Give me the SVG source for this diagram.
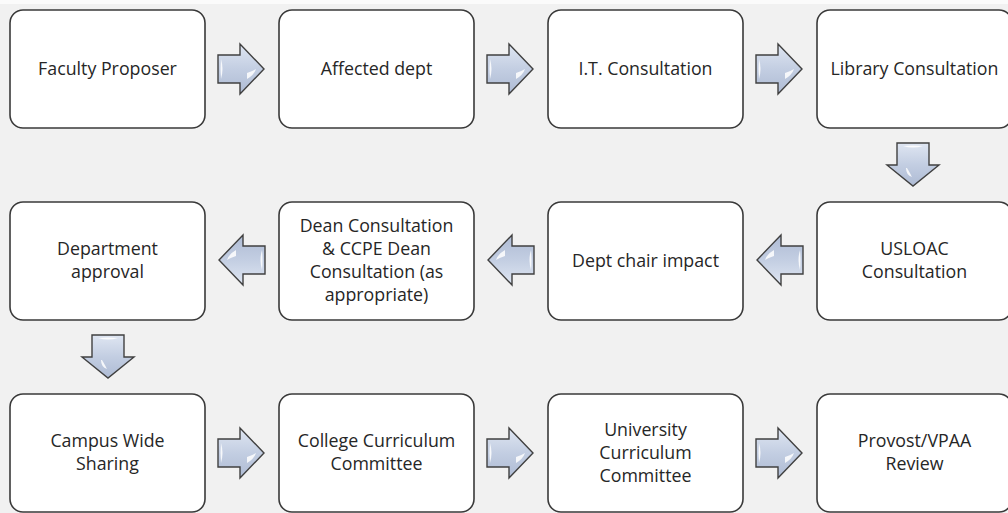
<svg xmlns="http://www.w3.org/2000/svg" width="1008" height="513" viewBox="0 0 1008 513">
  <style>
    .box { fill: #ffffff; stroke: #3a3a3a; stroke-width: 1.6; }
    .lbl { font-family: "Open Sans", "Liberation Sans", sans-serif; font-size: 17.8px; fill: #262626; text-anchor: middle; }
    .arr { fill: url(#arrFill); stroke: #404040; stroke-width: 1.4; stroke-linejoin: miter; }
    .glint { fill: #ffffff; opacity: 0.85; }
  </style>
  <defs>
    <linearGradient id="arrFill" x1="0" y1="0" x2="0" y2="1">
      <stop offset="0" stop-color="#dfe6f2"/>
      <stop offset="0.5" stop-color="#c3cee2"/>
      <stop offset="1" stop-color="#aebbd4"/>
    </linearGradient>
    <!-- horizontal block arrow pointing right, centred on 0,0 -->
    <g id="arrowRight">
      <path class="arr" d="M-23,-14 H-1 V-25 L23,0 L-1,25 V14 H-23 Z"/>
      <path class="glint" d="M-20,-10 q3,10 0,20 q-1,-10 0,-20 Z"/>
      <path class="glint" d="M6,4 q6,-2 9,-4 q-2,6 -9,10 Z"/>
    </g>
    <!-- vertical block arrow pointing down, centred on 0,0 -->
    <g id="arrowDown">
      <path class="arr" d="M-16,-21 H16 V1 H26 L0,22 L-26,1 H-16 Z"/>
      <path class="glint" d="M-10,-18 q10,3 20,0 q-10,-1 -20,0 Z"/>
      <path class="glint" d="M-6,4 q3,5 5,9 q-6,-2 -6,-9 Z"/>
    </g>
  </defs>

  <rect width="1008" height="513" fill="#f1f1f1"/>
  <rect width="1008" height="4" fill="#fbfbfb"/>

  <!-- connectors -->
  <g id="connectors">
    <use href="#arrowRight" x="241" y="69"/>
    <use href="#arrowRight" x="510" y="69"/>
    <use href="#arrowRight" x="779" y="69"/>
    <use href="#arrowDown" x="913" y="164"/>
    <use href="#arrowRight" transform="translate(780,260) rotate(180)"/>
    <use href="#arrowRight" transform="translate(511,260) rotate(180)"/>
    <use href="#arrowRight" transform="translate(242,260) rotate(180)"/>
    <use href="#arrowDown" x="108" y="356"/>
    <use href="#arrowRight" x="241" y="453"/>
    <use href="#arrowRight" x="510" y="453"/>
    <use href="#arrowRight" x="779" y="453"/>
  </g>

  <!-- row 1 -->
  <g id="faculty-proposer">
    <rect class="box" x="10" y="10" width="195" height="118" rx="13"/>
    <text class="lbl" x="107.5" y="75">Faculty Proposer</text>
  </g>
  <g id="affected-dept">
    <rect class="box" x="279" y="10" width="195" height="118" rx="13"/>
    <text class="lbl" x="376.5" y="75">Affected dept</text>
  </g>
  <g id="it-consultation">
    <rect class="box" x="548" y="10" width="195" height="118" rx="13"/>
    <text class="lbl" x="645.5" y="75">I.T. Consultation</text>
  </g>
  <g id="library-consultation">
    <rect class="box" x="817" y="10" width="195" height="118" rx="13"/>
    <text class="lbl" x="914.5" y="75">Library Consultation</text>
  </g>

  <!-- row 2 -->
  <g id="department-approval">
    <rect class="box" x="10" y="202" width="195" height="118" rx="13"/>
    <text class="lbl" x="107.5" y="255">Department</text>
    <text class="lbl" x="107.5" y="278">approval</text>
  </g>
  <g id="dean-consultation">
    <rect class="box" x="279" y="202" width="195" height="118" rx="13"/>
    <text class="lbl" x="376.5" y="232">Dean Consultation</text>
    <text class="lbl" x="376.5" y="255">&amp; CCPE Dean</text>
    <text class="lbl" x="376.5" y="278">Consultation (as</text>
    <text class="lbl" x="376.5" y="301">appropriate)</text>
  </g>
  <g id="dept-chair-impact">
    <rect class="box" x="548" y="202" width="195" height="118" rx="13"/>
    <text class="lbl" x="645.5" y="267">Dept chair impact</text>
  </g>
  <g id="usloac-consultation">
    <rect class="box" x="817" y="202" width="195" height="118" rx="13"/>
    <text class="lbl" x="914.5" y="255">USLOAC</text>
    <text class="lbl" x="914.5" y="278">Consultation</text>
  </g>

  <!-- row 3 -->
  <g id="campus-wide-sharing">
    <rect class="box" x="10" y="394" width="195" height="118" rx="13"/>
    <text class="lbl" x="107.5" y="447">Campus Wide</text>
    <text class="lbl" x="107.5" y="470">Sharing</text>
  </g>
  <g id="college-curriculum-committee">
    <rect class="box" x="279" y="394" width="195" height="118" rx="13"/>
    <text class="lbl" x="376.5" y="447">College Curriculum</text>
    <text class="lbl" x="376.5" y="470">Committee</text>
  </g>
  <g id="university-curriculum-committee">
    <rect class="box" x="548" y="394" width="195" height="118" rx="13"/>
    <text class="lbl" x="645.5" y="436">University</text>
    <text class="lbl" x="645.5" y="459">Curriculum</text>
    <text class="lbl" x="645.5" y="482">Committee</text>
  </g>
  <g id="provost-review">
    <rect class="box" x="817" y="394" width="195" height="118" rx="13"/>
    <text class="lbl" x="914.5" y="447">Provost/VPAA</text>
    <text class="lbl" x="914.5" y="470">Review</text>
  </g>
</svg>
